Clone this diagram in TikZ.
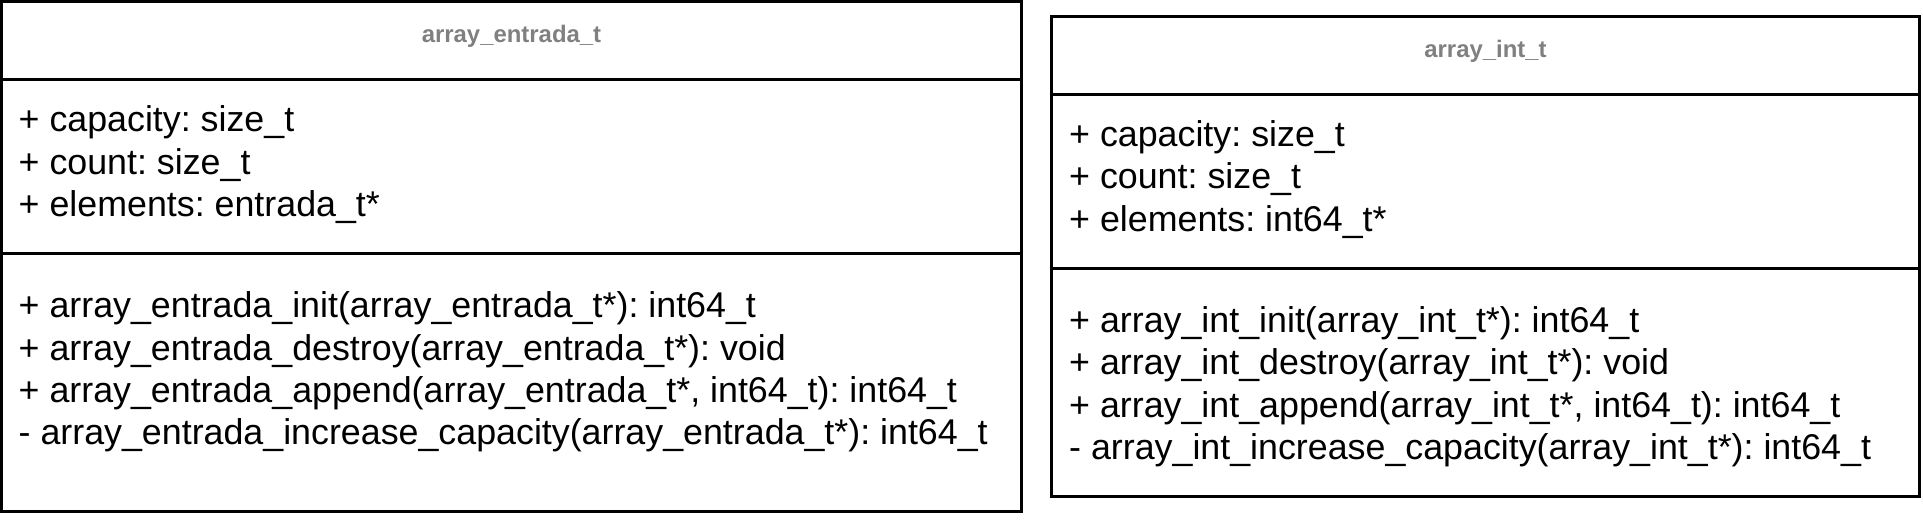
\documentclass[tikz,border=0pt]{standalone}
\usepackage{fontspec}
\setmainfont{Liberation Sans}
\usetikzlibrary{positioning,calc}
\definecolor{namegray}{HTML}{808080}
\tikzset{
  compart/.style={draw, line width=3pt, inner sep=0pt, outer sep=0pt, anchor=north west},
  classname/.style={font=\bfseries\fontsize{23.9}{28}\selectfont, text=namegray},
  members/.style={align=left, inner sep=0pt, anchor=base west, font=\fontsize{35.8}{42.3}\selectfont}
}
\frenchspacing

\begin{document}
\begin{tikzpicture}[x=1pt,y=-1pt]
\useasboundingbox (0,0) rectangle (1923,522);

% Class array_entrada_t
\node[compart, minimum width=1020pt, minimum height=78pt] (entTitle) at (1.5,1.5) {};
\node[compart, minimum width=1020pt, minimum height=174.3pt, below=0pt of entTitle] (entAttr) {};
\node[compart, minimum width=1020pt, minimum height=257.7pt, below=0pt of entAttr] (entMeth) {};

\node[classname] (entName) at ($(entTitle.north)+(0,35)$) {array\_entrada\_t};
% base of a block = base of its last line
\node[members] (entAttrText) at ($(entAttr.north west)+(17,137)$)
  {+ capacity: size\_t\\
   + count: size\_t\\
   + elements: entrada\_t*};
\node[members] (entMethText) at ($(entMeth.north west)+(17,190.8)$)
  {+ array\_entrada\_init(array\_entrada\_t*): int64\_t\\
   + array\_entrada\_destroy(array\_entrada\_t*): void\\
   + array\_entrada\_append(array\_entrada\_t*, int64\_t): int64\_t\\
   - array\_entrada\_increase\_capacity(array\_entrada\_t*): int64\_t};

% Class array_int_t
\node[compart, minimum width=868pt, minimum height=78.3pt] (intTitle) at (1051.5,16) {};
\node[compart, minimum width=868pt, minimum height=174.2pt, below=0pt of intTitle] (intAttr) {};
\node[compart, minimum width=868pt, minimum height=228pt, below=0pt of intAttr] (intMeth) {};

\node[classname] (intName) at ($(intTitle.north)+(0,35)$) {array\_int\_t};
\node[members] (intAttrText) at ($(intAttr.north west)+(17.5,136.9)$)
  {+ capacity: size\_t\\
   + count: size\_t\\
   + elements: int64\_t*};
\node[members] (intMethText) at ($(intMeth.north west)+(17.5,190.8)$)
  {+ array\_int\_init(array\_int\_t*): int64\_t\\
   + array\_int\_destroy(array\_int\_t*): void\\
   + array\_int\_append(array\_int\_t*, int64\_t): int64\_t\\
   - array\_int\_increase\_capacity(array\_int\_t*): int64\_t};
\end{tikzpicture}
\end{document}
